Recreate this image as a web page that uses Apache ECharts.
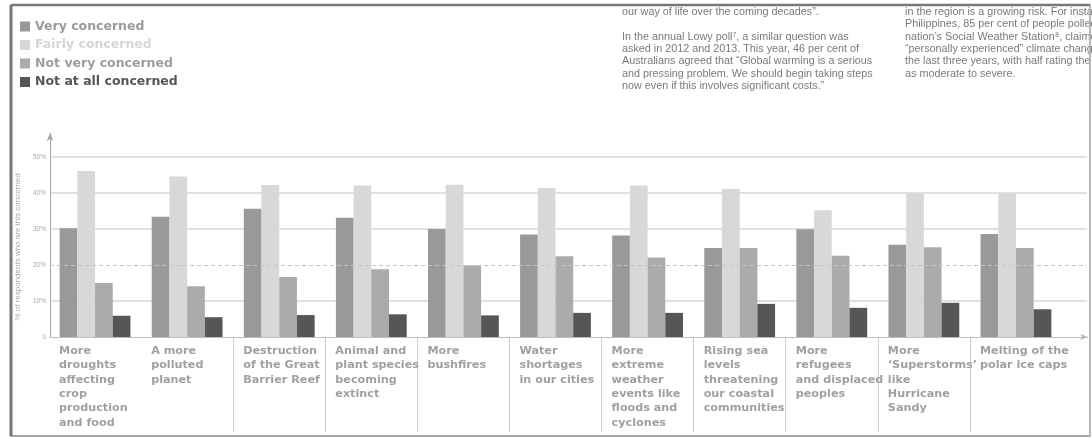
<!DOCTYPE html>
<html><head><meta charset="utf-8">
<script src="https://cdn.jsdelivr.net/npm/echarts@6/dist/echarts.min.js"></script>
<style>html,body{margin:0;padding:0;background:#fff;overflow:hidden}#c{width:1092px;height:438px}</style>
</head><body><div id="c"></div>
<script>
const categories = [
  'More\ndroughts\naffecting\ncrop\nproduction\nand food',
  'A more\npolluted\nplanet',
  'Destruction\nof the Great\nBarrier Reef',
  'Animal and\nplant species\nbecoming\nextinct',
  'More\nbushfires',
  'Water\nshortages\nin our cities',
  'More\nextreme\nweather\nevents like\nfloods and\ncyclones',
  'Rising sea\nlevels\nthreatening\nour coastal\ncommunities',
  'More\nrefugees\nand displaced\npeoples',
  'More\n\u2018Superstorms\u2019\nlike\nHurricane\nSandy',
  'Melting of the\npolar ice caps'
];
const seriesNames = ['Very concerned', 'Fairly concerned', 'Not very concerned', 'Not at all concerned'];
const veryConcerned   = [30.2, 33.4, 35.6, 33.1, 30.0, 28.5, 28.2, 24.7, 29.9, 25.6, 28.6];
const fairlyConcerned = [46.1, 44.6, 42.2, 42.1, 42.3, 41.4, 42.1, 41.1, 35.2, 40.0, 39.9];
const notVeryConcerned = [15.0, 14.1, 16.7, 18.8, 19.9, 22.4, 22.1, 24.7, 22.6, 24.9, 24.7];
const notAtAllConcerned = [5.9, 5.5, 6.1, 6.3, 6.0, 6.7, 6.7, 9.2, 8.1, 9.5, 7.7];
const yTickValues = [0, 10, 20, 30, 40, 50];
const yAxisTitle = '% of respondents who are this concerned';
const textColumn1 = 'our way of life over the coming decades\u201d.\n\nIn the annual Lowy poll\u2077, a similar question was\nasked in 2012 and 2013. This year, 46 per cent of\nAustralians agreed that \u201cGlobal warming is a serious\nand pressing problem. We should begin taking steps\nnow even if this involves significant costs.\u201d';
const textColumn2 = 'in the region is a growing risk. For instance, in the\nPhilippines, 85 per cent of people polled by the\nnation\u2019s Social Weather Station\u2078, claimed to have\n\u201cpersonally experienced\u201d climate change over\nthe last three years, with half rating the impact\nas moderate to severe.';

const barColors = ['#999999', '#d8d8d8', '#ababab', '#565656'];
const legendTextColors = ['#9a9a9a', '#d6d6d6', '#9c9c9c', '#555555'];
const seriesData = [veryConcerned, fairlyConcerned, notVeryConcerned, notAtAllConcerned];

// separators between label cells: none before the 2nd category, none at the ends
const separatorColors = categories.slice(1).map((c, i) => i === 0 ? 'transparent' : '#cfcfcf');

const chart = echarts.init(document.getElementById('c'), null, {renderer: 'canvas'});

const series = seriesNames.map((n, i) => ({
  name: n, type: 'bar', xAxisIndex: 0, yAxisIndex: 0,
  data: seriesData[i], barWidth: 17.7, barGap: '0%',
  itemStyle: {color: barColors[i]}, silent: true
}));
series.push({
  type: 'line', xAxisIndex: 1, yAxisIndex: 1, data: [], silent: true,
  markLine: {
    symbol: 'none', silent: true, label: {show: false},
    lineStyle: {type: [4, 3], color: '#c4c4c4', width: 1},
    data: [{yAxis: yTickValues[2]}]
  }
});

const option = {
  animation: false,
  backgroundColor: '#ffffff',
  legend: {
    orient: 'vertical', left: 15, top: 15, itemWidth: 10, itemHeight: 10, itemGap: 5.5,
    icon: 'rect', selectedMode: false,
    textStyle: {fontFamily: 'DejaVu Sans', fontWeight: 'bold', fontSize: 12.5},
    data: seriesNames.map((n, i) => ({name: n, textStyle: {color: legendTextColors[i]}}))
  },
  grid: [
    {left: 49, right: 30, top: 157, bottom: 101},
    {left: 50, right: 5, top: 157, bottom: 101},
    {left: 50, right: 4, top: 133, bottom: 101},
    {left: 49, right: 30, top: 338, bottom: 6}
  ],
  xAxis: [
    {
      gridIndex: 0, type: 'category', data: categories, boundaryGap: true,
      axisLine: {show: false}, axisTick: {show: false},
      axisLabel: {
        interval: 0, margin: 7, width: 72, overflow: 'none', align: 'center',
        formatter: function (v) { return v.split('\n').map(s => '{a|' + s + '}').join('\n'); },
        rich: {a: {align: 'left', fontFamily: 'DejaVu Sans', fontWeight: 'bold', fontSize: 11.2, color: '#a0a0a0', lineHeight: 14.3}}
      }
    },
    {gridIndex: 1, type: 'value', min: 0, max: 1, show: false},
    {
      gridIndex: 2, type: 'value', min: 0, max: 1,
      axisLine: {show: true, symbol: ['none', 'arrow'], symbolSize: [5, 8], lineStyle: {color: '#bdbdbd', width: 1}},
      axisTick: {show: false}, axisLabel: {show: false}, splitLine: {show: false}
    },
    {
      gridIndex: 3, type: 'value', min: 0, max: categories.length, interval: 1,
      axisLine: {show: false}, axisTick: {show: false}, axisLabel: {show: false},
      splitLine: {show: true, showMinLine: false, showMaxLine: false,
        lineStyle: {color: separatorColors, width: 1}}
    }
  ],
  yAxis: [
    {gridIndex: 0, type: 'value', min: 0, max: 50, interval: 10, show: false},
    {
      gridIndex: 1, type: 'value', min: 0, max: 50, interval: 10,
      axisLine: {show: false}, axisTick: {show: false},
      axisLabel: {margin: 4, fontSize: 6.5, color: '#a8a8a8', fontFamily: 'Liberation Sans',
        formatter: function (v) { return v === 0 ? '0' : v + '%'; }},
      splitLine: {show: true, lineStyle: {width: 1.5, color: ['transparent', '#d6d6d6', 'transparent', '#d6d6d6', '#d6d6d6', '#d6d6d6']}},
      name: yAxisTitle, nameLocation: 'middle', nameGap: 26, nameRotate: 90,
      nameTextStyle: {fontSize: 8, color: '#a8a8a8', fontFamily: 'Liberation Sans'}
    },
    {
      gridIndex: 2, type: 'value', min: 0, max: 1,
      axisLine: {show: true, symbol: ['none', 'arrow'], symbolSize: [5, 8], lineStyle: {color: '#a5a5a5', width: 1}},
      axisTick: {show: false}, axisLabel: {show: false}, splitLine: {show: false}
    },
    {gridIndex: 3, type: 'value', min: 0, max: 1, show: false}
  ],
  graphic: [
    {type: 'text', left: 622, top: 6, silent: true,
      style: {text: textColumn1, fontFamily: 'Liberation Sans', fontSize: 10.8, lineHeight: 12.3, fill: '#7a7a7a'}},
    {type: 'text', left: 905, top: 6, silent: true,
      style: {text: textColumn2, fontFamily: 'Liberation Sans', fontSize: 10.8, lineHeight: 12.3, fill: '#7a7a7a'}},
    {type: 'rect', silent: true, z: 101, shape: {x: 11, y: 5, width: 1079, height: 431},
      style: {fill: 'none', stroke: '#8a8a8a', lineWidth: 1.5}},
    {type: 'line', silent: true, z: 101, shape: {x1: 11, y1: 5, x2: 11, y2: 436}, style: {stroke: '#777777', lineWidth: 3}},
    {type: 'line', silent: true, z: 101, shape: {x1: 11, y1: 5, x2: 1090, y2: 5}, style: {stroke: '#777777', lineWidth: 2.5}},
    {type: 'line', silent: true, z: 101, shape: {x1: 1090, y1: 5, x2: 1090, y2: 436}, style: {stroke: '#c8c8c8', lineWidth: 1}}
  ],
  series: series
};
chart.setOption(option);
</script></body></html>
